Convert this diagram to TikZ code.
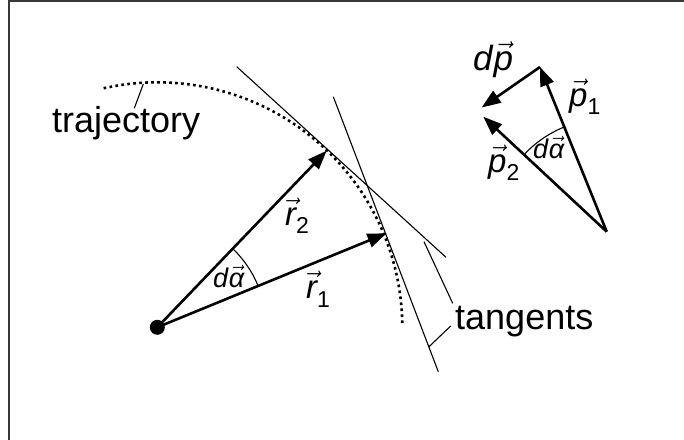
\RequirePackage{fix-cm}
\documentclass[tikz,border=0pt]{standalone}
\usepackage{amsmath}
\usepackage{fontspec}
\setmainfont{Liberation Sans}
\usetikzlibrary{arrows.meta}
\newcommand\vlet[1]{$\vec{\text{\itshape #1}}$}
\newcommand\vlab[2]{\vlet{#1}\raisebox{-0.27em}{\fontsize{23}{23}\selectfont #2}}
\begin{document}
\begin{tikzpicture}[x=1pt,y=-1pt,
  vecarrow/.style={line width=2.6pt,-{Triangle[length=19pt,width=14pt]}},
  thin line/.style={line width=1.1pt},
  dotted traj/.style={line width=2.6pt,dash pattern=on 2.6pt off 3.4pt},
  word/.style={inner sep=0pt,anchor=base west,font=\fontsize{36}{36}\selectfont},
  vlabel/.style={inner sep=0pt,anchor=base west,font=\fontsize{33}{33}\selectfont},
  alabel/.style={inner sep=0pt,anchor=base west,font=\fontsize{27}{27}\selectfont}]
\useasboundingbox (0,0) rectangle (684,439);
% frame
\draw[line width=2pt,color=black!78] (8.7,460) -- (8.7,0.5) -- (700,0.5);
% centre and radius vectors
\node[circle,fill,minimum size=15pt,inner sep=0pt] (O) at (157.3,327.3) {};
\coordinate (R1) at (386.5,233.3);
\coordinate (R2) at (326.7,150.7);
% trajectory
\draw[dotted traj] (O.center) ++(-102.65:245) arc[start angle=-102.65,end angle=-1,radius=245];
% tangents
\coordinate (T1a) at (236.7,66.7);
\coordinate (T1b) at (446,257.3);
\coordinate (T2a) at (333.3,96.7);
\coordinate (T2b) at (438.3,371.7);
\draw[thin line] (T1a) -- (T1b);
\draw[thin line] (T2a) -- (T2b);
\draw[vecarrow] (O.center) -- (R2);
\draw[vecarrow] (O.center) -- (R1);
\draw[thin line] (O.center) ++(-22.35:109) arc[start angle=-22.35,end angle=-46.2,radius=109];
% labels
\node[word] (traj) at (52,132) {trajectory};
\coordinate (trajA) at (143.3,84);
\coordinate (trajB) at (134.3,108.3);
\draw[thin line] (trajA) -- (trajB);
\node[word] (tang) at (455,329) {tangents};
\coordinate (L1a) at (424,241.7);
\coordinate (L1b) at (452.7,303.3);
\coordinate (L2a) at (450.7,326);
\coordinate (L2b) at (429,346.7);
\draw[thin line] (L1a) -- (L1b);
\draw[thin line] (L2a) -- (L2b);
\node[vlabel] (r2) at (285,225) {\vlab{r}{2}};
\node[vlabel] (r1) at (306,298.3) {\vlab{r}{1}};
\node[alabel] (da1) at (213,287) {\textit{d}\vlet{α}};
% momentum triangle
\coordinate (P0) at (606.7,231.7);
\coordinate (P1) at (540,67);
\coordinate (P2) at (483.3,116.7);
\coordinate (DP) at (481.7,107.5);
\draw[vecarrow] (P0) -- (P1);
\draw[vecarrow] (P0) -- (P2);
\draw[vecarrow] (P1) -- (DP);
\draw[thin line] (P0) ++(-112.05:113) arc[start angle=-112.05,end angle=-137,radius=113];
\node[vlabel,font=\fontsize{35}{35}\selectfont] (dp) at (473,70) {\textit{d}\vlet{p}};
\node[vlabel] (p1) at (569,106) {\vlab{p}{1}};
\node[vlabel] (p2) at (488,172) {\vlab{p}{2}};
\node[alabel] (da2) at (533,158.5) {\textit{d}\vlet{α}};
\end{tikzpicture}
\end{document}
